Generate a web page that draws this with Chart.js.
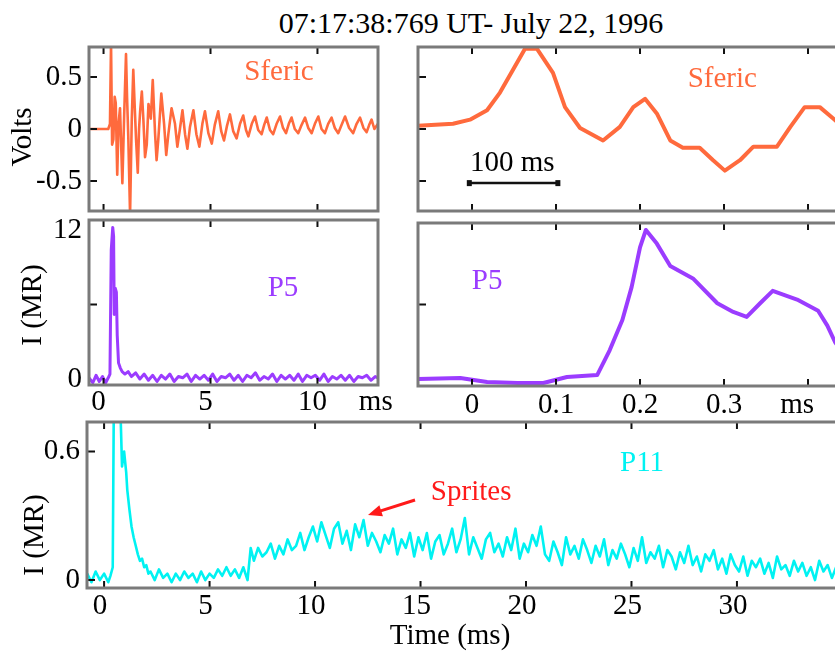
<!DOCTYPE html>
<html>
<head>
<meta charset="utf-8">
<script src="https://cdn.jsdelivr.net/npm/chart.js@4.4.0/dist/chart.umd.min.js"></script>
<style>
html, body { margin: 0; padding: 0; background: #fff; overflow: hidden; width: 835px; height: 651px; }
canvas { position: absolute; left: 0; top: 0; }
#title { position: absolute; left: 0; top: 8px; width: 942px; text-align: center; font: 30px/30px "Liberation Serif"; color: #000; white-space: nowrap; }
</style>
</head>
<body>
<div id="title">07:17:38:769 UT- July 22, 1996</div>
<canvas id="sfericFull" width="850" height="651"></canvas>
<canvas id="sfericZoom" width="850" height="651"></canvas>
<canvas id="p5Full" width="850" height="651"></canvas>
<canvas id="p5Zoom" width="850" height="651"></canvas>
<canvas id="p11Full" width="850" height="651"></canvas>
<script>
// sferic, whole record (ms, volts)
const sfericT = [-0.68, 0.22, 0.30, 0.35, 0.40, 0.46, 0.52, 0.57, 0.64, 0.70,
  0.77, 0.83, 0.88, 0.96, 1.05, 1.10, 1.16, 1.24, 1.32, 1.39,
  1.46, 1.52, 1.60, 1.66, 1.71, 1.79, 1.86, 1.94, 2.02, 2.10,
  2.21, 2.30, 2.41, 2.48, 2.56, 2.70, 2.83, 2.93, 3.03, 3.18,
  3.34, 3.45, 3.57, 3.69, 3.81, 3.92, 4.04, 4.20, 4.34, 4.48,
  4.62, 4.74, 4.90, 5.06, 5.20, 5.36, 5.50, 5.63, 5.77, 5.91,
  6.06, 6.22, 6.38, 6.53, 6.66, 6.77, 6.93, 7.08, 7.23, 7.39,
  7.51, 7.63, 7.78, 7.93, 8.09, 8.25, 8.39, 8.53, 8.66, 8.79,
  8.94, 9.10, 9.26, 9.42, 9.57, 9.73, 9.88, 10.04, 10.19, 10.35,
  10.50, 10.66, 10.81, 10.97, 11.13, 11.29, 11.48, 11.67, 11.83, 11.99,
  12.15, 12.30, 12.42, 12.53, 12.66, 12.83];
const sfericV = [0, 0, 0.05, 0.82, -0.15, -0.1, 0.31, 0.25, -0.44, 0.05,
  0.2, -0.2, -0.52, 0.1, 0.72, 0.3, -0.1, -0.82, 0.1, 0.57,
  0.2, -0.1, -0.42, 0.0, 0.17, 0.36, 0.1, -0.27, -0.15, 0.24,
  0.1, 0.47, -0.05, -0.3, -0.1, 0.34, 0.05, -0.25, -0.05, 0.2,
  0.05, -0.17, 0.0, 0.18, -0.05, -0.19, 0.02, 0.18, -0.05, -0.17,
  0.05, 0.17, -0.04, -0.14, 0.04, 0.17, -0.02, -0.11, 0.03, 0.14,
  -0.02, -0.09, 0.05, 0.13, -0.01, -0.07, 0.05, 0.12, -0.01, -0.05,
  0.04, 0.11, -0.01, -0.05, 0.05, 0.12, 0.01, -0.04, 0.05, 0.11,
  0.0, -0.04, 0.04, 0.11, 0.01, -0.04, 0.05, 0.12, 0.0, -0.04,
  0.05, 0.11, 0.01, -0.04, 0.04, 0.12, 0.01, -0.04, 0.05, 0.11,
  0.01, -0.03, 0.04, 0.09, 0.0, 0.05];

// sferic, zoomed window
const sfericZoomT = [-0.0643, -0.0226, -0.0024, 0.0179, 0.0333, 0.0488, 0.0631, 0.0774, 0.0964, 0.1107,
  0.1286, 0.156, 0.176, 0.192, 0.206, 0.220, 0.236, 0.251, 0.271, 0.287,
  0.301, 0.319, 0.335, 0.363, 0.379, 0.396, 0.414, 0.430, 0.4357];
const sfericZoomV = [0.03, 0.05, 0.09, 0.18, 0.35, 0.57, 0.77, 0.77, 0.54, 0.21,
  0.01, -0.11, 0.02, 0.21, 0.29, 0.15, -0.11, -0.18, -0.18, -0.30,
  -0.40, -0.30, -0.17, -0.17, 0.02, 0.21, 0.21, 0.10, 0.06];

// P5 photometer, whole record (ms, MR)
const p5T = [-0.68, -0.5, -0.35, -0.2, -0.05, 0.1, 0.22, 0.3, 0.36, 0.43,
  0.47, 0.5, 0.55, 0.6, 0.64, 0.7, 0.78, 0.87, 1.0, 1.15,
  1.3, 1.5, 1.7, 1.9, 2.1, 2.3, 2.5, 2.7, 2.9, 3.1,
  3.3, 3.5, 3.7, 3.9, 4.1, 4.3, 4.5, 4.7, 4.9, 5.1,
  5.3, 5.5, 5.7, 5.9, 6.1, 6.3, 6.5, 6.7, 6.9, 7.1,
  7.3, 7.5, 7.7, 7.9, 8.1, 8.3, 8.5, 8.7, 8.9, 9.1,
  9.3, 9.5, 9.7, 9.9, 10.1, 10.3, 10.5, 10.7, 10.9, 11.1,
  11.3, 11.5, 11.7, 11.9, 12.1, 12.3, 12.5, 12.7, 12.83];
const p5V = [0.1, -0.3, 0.3, -0.2, 0.2, -0.3, 0.1, 0.4, 10.4, 12.2,
  11.5, 5.2, 7.3, 7.0, 3.5, 1.3, 0.9, 0.6, 0.4, 0.6,
  0.2, 0.5, 0.0, 0.4, -0.1, 0.3, -0.2, 0.3, 0.0, 0.4,
  -0.2, 0.2, 0.1, 0.4, -0.2, 0.3, 0.0, 0.3, -0.1, 0.4,
  -0.2, 0.2, 0.1, 0.4, -0.1, 0.3, -0.2, 0.3, 0.1, 0.5,
  -0.1, 0.2, 0.0, 0.4, -0.2, 0.3, 0.0, 0.3, -0.1, 0.4,
  -0.2, 0.3, 0.1, 0.3, -0.1, 0.4, -0.2, 0.2, 0.0, 0.3,
  -0.1, 0.3, -0.2, 0.2, 0.1, 0.3, -0.1, 0.2, 0.1];

// P5 photometer, zoomed window
const p5ZoomT = [-0.064, -0.014, 0.018, 0.054, 0.085, 0.113, 0.149, 0.164, 0.179, 0.190,
  0.2, 0.207, 0.220, 0.236, 0.263, 0.292, 0.311, 0.327, 0.343, 0.358,
  0.387, 0.412, 0.423, 0.432, 0.436];
const p5ZoomV = [0.0, 0.08, -0.24, -0.32, -0.32, 0.16, 0.32, 2.33, 4.75, 7.4,
  10.6, 12.0, 10.9, 9.1, 8.1, 6.1, 5.4, 5.0, 6.1, 7.1,
  6.4, 5.5, 4.3, 3.0, 2.6];

// P11 photometer (ms, MR)
const p11T = [-0.8, -0.6, -0.4, -0.2, 0, 0.2, 0.3, 0.41, 0.47, 0.6,
  0.76, 0.85, 0.95, 1.05, 1.1, 1.2, 1.3, 1.4, 1.5, 1.6,
  1.7, 1.8, 1.9, 2.0, 2.1, 2.2, 2.4, 2.6, 2.8, 3.0,
  3.2, 3.4, 3.6, 3.8, 4.0, 4.2, 4.4, 4.6, 4.8, 5.0,
  5.2, 5.4, 5.6, 5.8, 6.0, 6.2, 6.4, 6.6, 6.8, 6.95,
  7.1, 7.3, 7.5, 7.7, 7.9, 8.1, 8.3, 8.5, 8.7, 8.9,
  9.1, 9.3, 9.5, 9.7, 9.9, 10.1, 10.3, 10.5, 10.7, 10.9,
  11.1, 11.3, 11.5, 11.7, 11.9, 12.1, 12.3, 12.5, 12.7, 12.9,
  13.1, 13.3, 13.5, 13.7, 13.9, 14.1, 14.3, 14.5, 14.7, 14.9,
  15.1, 15.3, 15.5, 15.7, 15.9, 16.1, 16.3, 16.5, 16.7, 16.9,
  17.1, 17.3, 17.5, 17.7, 17.9, 18.1, 18.3, 18.5, 18.7, 18.9,
  19.1, 19.3, 19.5, 19.7, 19.9, 20.1, 20.3, 20.5, 20.7, 20.9,
  21.1, 21.3, 21.5, 21.7, 21.9, 22.1, 22.3, 22.5, 22.7, 22.9,
  23.1, 23.3, 23.5, 23.7, 23.9, 24.1, 24.3, 24.5, 24.7, 24.9,
  25.1, 25.3, 25.5, 25.7, 25.9, 26.1, 26.3, 26.5, 26.7, 26.9,
  27.1, 27.3, 27.5, 27.7, 27.9, 28.1, 28.3, 28.5, 28.7, 28.9,
  29.1, 29.3, 29.5, 29.7, 29.9, 30.1, 30.3, 30.5, 30.7, 30.9,
  31.1, 31.3, 31.5, 31.7, 31.9, 32.1, 32.3, 32.5, 32.7, 32.9,
  33.1, 33.3, 33.5, 33.7, 33.9, 34.1, 34.3, 34.5, 34.7, 34.9];
const p11V = [0.03, -0.01, 0.04, 0.0, 0.03, -0.01, 0.02, 0.06, 0.95, 1.1,
  0.85, 0.53, 0.6, 0.5, 0.42, 0.33, 0.25, 0.2, 0.16, 0.12,
  0.09, 0.1, 0.06, 0.07, 0.03, 0.04, 0.0, 0.05, 0.01, 0.03,
  -0.01, 0.03, 0.0, 0.04, 0.01, 0.03, -0.01, 0.04, 0.0, 0.03,
  0.01, 0.05, 0.02, 0.06, 0.02, 0.05, 0.01, 0.06, 0.0, 0.15,
  0.09, 0.15, 0.11, 0.13, 0.17, 0.1, 0.16, 0.12, 0.19, 0.14,
  0.16, 0.22, 0.14, 0.2, 0.25, 0.18, 0.27, 0.21, 0.15, 0.24,
  0.27, 0.17, 0.23, 0.14, 0.26, 0.2, 0.28, 0.16, 0.22, 0.18,
  0.13, 0.21, 0.17, 0.24, 0.12, 0.19, 0.15, 0.22, 0.11, 0.2,
  0.14, 0.22, 0.1, 0.18, 0.21, 0.12, 0.17, 0.24, 0.13, 0.19,
  0.29, 0.12, 0.2, 0.15, 0.1, 0.19, 0.22, 0.13, 0.17, 0.11,
  0.2, 0.14, 0.24, 0.1, 0.17, 0.13, 0.21, 0.16, 0.25, 0.12,
  0.09, 0.18, 0.13, 0.07, 0.2, 0.12, 0.16, 0.1, 0.19, 0.14,
  0.08, 0.16, 0.11, 0.19, 0.07, 0.14, 0.1, 0.17, 0.12, 0.06,
  0.15, 0.09, 0.2, 0.08, 0.13, 0.1, 0.16, 0.06, 0.14, 0.11,
  0.05, 0.13, 0.08, 0.16, 0.07, 0.11, 0.04, 0.12, 0.09, 0.14,
  0.05, 0.1, 0.03, 0.12, 0.07, 0.04, 0.11, 0.02, 0.09, 0.06,
  0.1, 0.03, 0.08, 0.01, 0.11, 0.05, 0.07, 0.02, 0.09, 0.04,
  0.08, 0.02, 0.06, 0.0, 0.09, 0.04, 0.07, 0.01, 0.06, 0.05];

// ticks
const msTicks = [0, 5, 10];
const msLabelPos = [0, 5, 10, 12.96];
const msLabels = ['0', '5', '10', 'ms'];
const zoomTicks = [0, 0.1, 0.2, 0.3, 0.4];
const zoomLabelPos = [0, 0.1, 0.2, 0.3, 0.387];
const zoomLabels = ['0', '0.1', '0.2', '0.3', 'ms'];
const timeTicks = [0, 5, 10, 15, 20, 25, 30];
const voltTicks = [0.5, 0, -0.5];
const p5Labels = [12, 0];
const p11Ticks = [0.6, 0];

const SERIF = 'Liberation Serif';
const SFERIC = '#ff6a3d';
const PURPLE = '#9b3cff';
const CYAN = '#00f2f2';

const framePlugin = {
  id: 'frame',
  afterDatasetsDraw(chart, args, o) {
    const ctx = chart.ctx, a = chart.chartArea;
    const x = chart.scales.x, y = chart.scales.y;
    const px = p => p.px ? p.x : x.getPixelForValue(p.x);
    const py = p => p.px ? p.y : y.getPixelForValue(p.y);
    ctx.save();
    ctx.strokeStyle = '#111';
    ctx.lineWidth = 2;
    ctx.beginPath();
    (o.xt || []).forEach(v => {
      const X = x.getPixelForValue(v);
      ctx.moveTo(X, a.top); ctx.lineTo(X, a.top + 7);
      ctx.moveTo(X, a.bottom); ctx.lineTo(X, a.bottom - 7);
    });
    (o.yt || []).forEach(v => {
      const Y = y.getPixelForValue(v);
      ctx.moveTo(a.left, Y); ctx.lineTo(a.left + 8, Y);
    });
    ctx.stroke();
    ctx.strokeStyle = '#7a7a7a';
    ctx.lineWidth = 3;
    ctx.strokeRect(a.left, a.top, a.right - a.left, a.bottom - a.top);

    if (o.bar) {
      const x0 = x.getPixelForValue(o.bar.x0), x1 = x.getPixelForValue(o.bar.x1), Y = y.getPixelForValue(o.bar.y);
      ctx.strokeStyle = '#111'; ctx.lineWidth = 2.5;
      ctx.beginPath(); ctx.moveTo(x0, Y); ctx.lineTo(x1, Y); ctx.stroke();
      ctx.fillStyle = '#111';
      ctx.fillRect(x0 - 1, Y - 3, 5, 6); ctx.fillRect(x1 - 4, Y - 3, 5, 6);
    }
    if (o.arrow) {
      const x0 = x.getPixelForValue(o.arrow.x0), y0 = y.getPixelForValue(o.arrow.y0);
      const x1 = x.getPixelForValue(o.arrow.x1), y1 = y.getPixelForValue(o.arrow.y1);
      const ang = Math.atan2(y1 - y0, x1 - x0);
      ctx.strokeStyle = o.arrow.color; ctx.fillStyle = o.arrow.color; ctx.lineWidth = 3;
      ctx.beginPath(); ctx.moveTo(x0, y0); ctx.lineTo(x1 - 10 * Math.cos(ang), y1 - 10 * Math.sin(ang)); ctx.stroke();
      ctx.beginPath();
      ctx.moveTo(x1, y1);
      ctx.lineTo(x1 - 15 * Math.cos(ang - 0.4), y1 - 15 * Math.sin(ang - 0.4));
      ctx.lineTo(x1 - 15 * Math.cos(ang + 0.4), y1 - 15 * Math.sin(ang + 0.4));
      ctx.closePath(); ctx.fill();
    }
    (o.texts || []).forEach(t => {
      ctx.save();
      ctx.font = (t.size || 29) + 'px "' + SERIF + '"';
      ctx.fillStyle = t.color || '#000';
      ctx.textAlign = 'center';
      ctx.textBaseline = 'middle';
      ctx.translate(px(t), py(t));
      if (t.rot) ctx.rotate(t.rot);
      ctx.fillText(t.s, 0, 0);
      ctx.restore();
    });
    ctx.restore();
  }
};

function panel(id, o) {
  const showX = !!o.xPos, showY = !!o.yPos;
  const font = { family: SERIF, size: 29 };
  return new Chart(document.getElementById(id), {
    type: 'line',
    data: {
      datasets: [{
        data: o.t.map((t, i) => ({ x: t, y: o.v[i] })),
        borderColor: o.color,
        borderWidth: o.width,
        pointRadius: 0,
        tension: 0,
        clip: 0,
        borderJoinStyle: 'round'
      }]
    },
    options: {
      responsive: false,
      animation: false,
      events: [],
      layout: {
        padding: {
          left: showY ? 0 : o.area[0],
          top: o.area[1],
          right: 850 - o.area[2],
          bottom: 651 - o.area[3] - (showX ? 50 : 0)
        }
      },
      plugins: {
        legend: { display: false },
        tooltip: { enabled: false },
        frame: { xt: o.xt, yt: o.yt, texts: o.texts, bar: o.bar, arrow: o.arrow }
      },
      scales: {
        x: {
          type: 'linear', display: showX, min: o.x[0], max: o.x[1],
          grid: { display: false, drawTicks: false }, border: { display: false },
          afterBuildTicks: s => { if (showX) s.ticks = o.xPos.map(v => ({ value: v })); },
          afterFit: s => { if (showX) s.height = 50; },
          ticks: { padding: o.xPad || 0, labelOffset: o.xShift || 0, color: '#000', font, maxRotation: 0, autoSkip: false,
            callback: (v, i) => (o.xNames ? o.xNames[i] : '') }
        },
        y: {
          type: 'linear', display: showY, min: o.y[0], max: o.y[1],
          grid: { display: false, drawTicks: false }, border: { display: false },
          afterBuildTicks: s => { if (showY) s.ticks = o.yPos.map(v => ({ value: v })); },
          afterFit: s => { if (showY) s.width = o.area[0]; },
          ticks: { padding: 7, color: '#000', font, autoSkip: false,
            callback: v => String(v) }
        }
      }
    },
    plugins: [framePlugin]
  });
}

panel('sfericFull', {
  area: [89, 47, 378, 211], x: [-0.68, 12.83], y: [-0.788, 0.788],
  t: sfericT, v: sfericV, color: SFERIC, width: 2.6,
  yPos: voltTicks, xt: msTicks, yt: voltTicks,
  texts: [
    { s: 'Sferic', x: 8.2, y: 0.54, color: SFERIC },
    { s: 'Volts', x: 23, y: 137, px: true, rot: -Math.PI / 2 }
  ]
});

panel('sfericZoom', {
  area: [418, 47, 838, 211], x: [-0.0643, 0.4357], y: [-0.788, 0.788],
  t: sfericZoomT, v: sfericZoomV, color: SFERIC, width: 4,
  xt: zoomTicks, yt: voltTicks,
  bar: { x0: -0.005, x1: 0.104, y: -0.52 },
  texts: [
    { s: 'Sferic', x: 0.298, y: 0.48, color: SFERIC },
    { s: '100 ms', x: 0.048, y: -0.33 }
  ]
});

panel('p5Full', {
  area: [89, 220, 378, 385], x: [-0.68, 12.83], y: [-0.48, 12.8],
  t: p5T, v: p5V, color: PURPLE, width: 3,
  xPos: msLabelPos, xNames: msLabels, xPad: 0, xShift: -5,
  yPos: p5Labels, xt: msTicks, yt: [6],
  texts: [
    { s: 'P5', x: 8.39, y: 7.33, color: PURPLE },
    { s: 'I (MR)', x: 33, y: 305, px: true, rot: -Math.PI / 2 }
  ]
});

panel('p5Zoom', {
  area: [418, 223, 838, 386], x: [-0.0643, 0.4357], y: [-0.56, 12.56],
  t: p5ZoomT, v: p5ZoomV, color: PURPLE, width: 4,
  xPos: zoomLabelPos, xNames: zoomLabels, xPad: 2,
  xt: zoomTicks, yt: [6],
  texts: [
    { s: 'P5', x: 0.018, y: 7.9, color: PURPLE }
  ]
});

panel('p11Full', {
  area: [87, 422, 838, 588], x: [-0.81, 34.79], y: [-0.037, 0.738],
  t: p11T, v: p11V, color: CYAN, width: 2.6,
  xPos: timeTicks, xNames: timeTicks.map(String), xPad: 1, xShift: -4,
  yPos: p11Ticks, xt: timeTicks, yt: p11Ticks,
  arrow: { x0: 14.74, y0: 0.374, x1: 12.51, y1: 0.304, color: '#ff1a1a' },
  texts: [
    { s: 'P11', x: 25.5, y: 0.547, color: CYAN },
    { s: 'Sprites', x: 17.4, y: 0.41, color: '#ff1a1a' },
    { s: 'I (MR)', x: 35, y: 535, px: true, rot: -Math.PI / 2 },
    { s: 'Time (ms)', x: 450, y: 636, px: true }
  ]
});
</script>
</body>
</html>
